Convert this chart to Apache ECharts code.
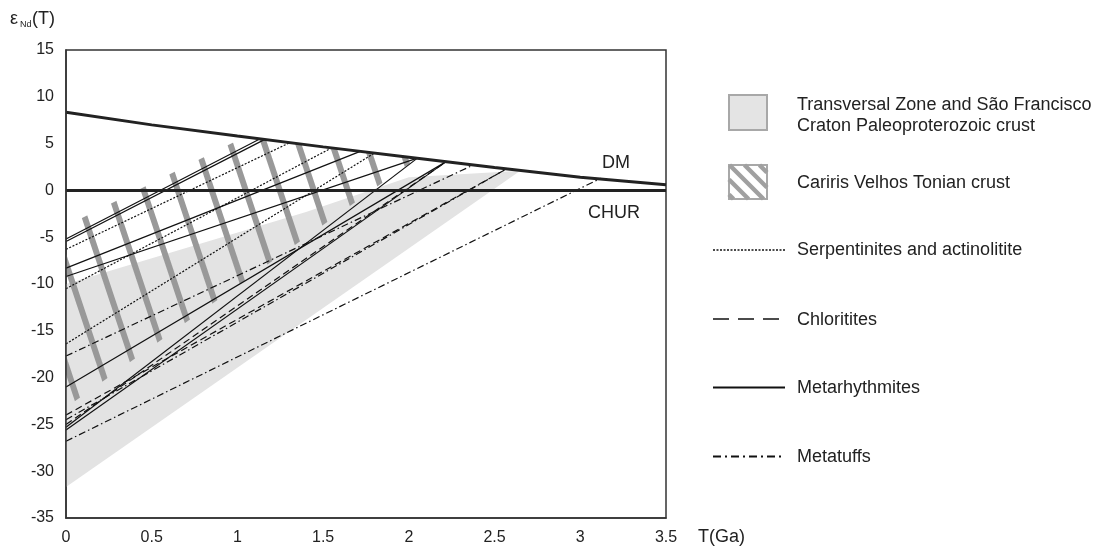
<!DOCTYPE html>
<html><head><meta charset="utf-8">
<script src="https://cdn.jsdelivr.net/npm/echarts@6/dist/echarts.min.js"></script>
<style>html,body{margin:0;padding:0;background:#fff}#c{width:1105px;height:551px}</style>
</head><body><div id="c"></div>
<script>
// ---------- data ----------
const xTickLabels = ['0','0.5','1','1.5','2','2.5','3','3.5'];
const yTickLabels = ['-35','-30','-25','-20','-15','-10','-5','0','5','10','15'];
// Depleted mantle curve
const dmT = [0, 0.5, 1, 1.5, 2, 2.5, 3, 3.5];
const dmE = [8.35, 7.0, 5.8, 4.65, 3.55, 2.45, 1.4, 0.6];
// CHUR
const churT = [0, 3.5];
const churE = [0, 0];
// Transversal Zone and São Francisco Craton Paleoproterozoic crust field
const fieldT = [0, 1.4, 2.0, 2.65, 0];
const fieldE = [-10.0, -2.3, 1.4, 2.1, -31.7];
// Cariris Velhos Tonian crust field
const hatchT = [0, 1.04, 1.5, 2.0, 2.05, 0];
const hatchE = [-3.8, 5.7, 4.65, 3.55, 3.45, -23.2];
// Sample evolution lines: start eps at T=0, end (T, eps) on DM
const serpE0 = [-6.3, -10.5, -16.4];
const serpT1 = [1.30, 1.55, 1.80];
const serpE1 = [5.05, 4.55, 4.0];
const chloE0 = [-24.0, -25.0];
const chloT1 = [2.57, 2.22];
const chloE1 = [2.3, 3.1];
const metaE0 = [-5.2, -5.45, -8.3, -9.2, -21.0, -25.3, -25.6];
const metaT1 = [1.13, 1.16, 1.72, 2.05, 2.22, 2.05, 2.22];
const metaE1 = [5.5, 5.45, 4.2, 3.45, 3.1, 3.45, 3.1];
const tuffE0 = [-17.7, -24.5, -26.8];
const tuffT1 = [2.38, 2.57, 3.12];
const tuffE1 = [2.75, 2.3, 1.3];

// ---------- styles ----------
const FONT = '"Liberation Sans", Arial, Helvetica, sans-serif';
const INK = '#222';
const STRIPE = '#999999';
const FIELD = '#e3e3e3';
const DASH = {
  serp: [2, 1.6],
  chlo: [7, 4],
  meta: 'solid',
  tuff: [7, 3, 1.5, 3]
};

function makeHatchPattern() {
  const W = 34, H = 102;
  const c = document.createElement('canvas');
  c.width = W; c.height = H;
  const g = c.getContext('2d');
  g.strokeStyle = STRIPE;
  g.lineWidth = 6;
  for (let k = -3; k <= 3; k++) {
    const x0 = 12.3 + W * k;
    g.beginPath();
    g.moveTo(x0 - W, -H);
    g.lineTo(x0 + 2 * W, 2 * H);
    g.stroke();
  }
  return c;
}
const hatchCanvas = makeHatchPattern();

function polySeries(name, T, E, fill, z) {
  return {
    type: 'custom', name: name, z: z, silent: true,
    encode: { x: 0, y: 1 },
    data: T.map((t, i) => [t, E[i]]),
    renderItem: function (params, api) {
      if (params.dataIndex !== 0) return null;
      const pts = T.map((t, i) => api.coord([t, E[i]]));
      return { type: 'polygon', shape: { points: pts }, style: { fill: fill } };
    }
  };
}

function lineFamily(name, E0, T1, E1, dash) {
  return E0.map((e0, i) => ({
    type: 'line', name: name, z: 3, silent: true,
    showSymbol: false, symbol: 'none',
    data: [[0, e0], [T1[i], E1[i]]],
    lineStyle: { color: '#111', width: 1.2, type: dash }
  }));
}

const series = [
  polySeries('field', fieldT, fieldE, FIELD, 1),
  polySeries('hatch', hatchT, hatchE, { image: hatchCanvas, repeat: 'repeat' }, 2),
  ...lineFamily('Serpentinites and actinolitite', serpE0, serpT1, serpE1, DASH.serp),
  ...lineFamily('Chloritites', chloE0, chloT1, chloE1, DASH.chlo),
  ...lineFamily('Metarhythmites', metaE0, metaT1, metaE1, DASH.meta),
  ...lineFamily('Metatuffs', tuffE0, tuffT1, tuffE1, DASH.tuff),
  {
    type: 'line', name: 'DM', z: 4, silent: true, showSymbol: false, symbol: 'none',
    data: dmT.map((t, i) => [t, dmE[i]]),
    lineStyle: { color: INK, width: 3 }
  },
  {
    type: 'line', name: 'CHUR', z: 4, silent: true, showSymbol: false, symbol: 'none',
    data: churT.map((t, i) => [t, churE[i]]),
    lineStyle: { color: INK, width: 3 }
  }
];

// ---------- legend graphics ----------
const LX0 = 713, LX1 = 785, TX = 797;
function txt(x, y, s, size) {
  return { type: 'text', silent: true, z: 100,
    style: { x: x, y: y, text: s, font: (size || 18) + 'px ' + FONT, fill: INK, verticalAlign: 'middle', align: 'left' } };
}
function seg(x1, y1, x2, y2, dash, w, color) {
  return { type: 'line', silent: true, z: 100,
    shape: { x1: x1, y1: y1, x2: x2, y2: y2 },
    style: { stroke: color || '#111', lineWidth: w || 1.6, lineDash: dash || null } };
}
function hatchBox(x, y, w, h) {
  const els = [{ type: 'rect', silent: true, z: 100, shape: { x: x, y: y, width: w, height: h },
    style: { fill: '#fff', stroke: '#a8a8a8', lineWidth: 2 } }];
  const sp = 15;
  for (let x0 = x - 2 * sp + 0.5; x0 < x + w; x0 += sp) {
    // 45 degree line starting at (x0, y) going down-right, clipped to box
    let ax = x0, ay = y, bx = x0 + h, by = y + h;
    if (ax < x) { ay += (x - ax); ax = x; }
    if (bx > x + w) { by -= (bx - (x + w)); bx = x + w; }
    if (ay < by) els.push(seg(ax, ay, bx, by, null, 4.5, '#a0a0a0'));
  }
  return els;
}
const graphics = [
  // y axis title
  txt(10, 19, 'ε', 18),
  txt(20, 25, 'Nd', 9),
  txt(32, 19, '(T)', 18),
  // x axis title
  txt(698, 537.5, 'T(Ga)', 18),
  // curve labels
  txt(602, 163, 'DM', 18),
  txt(588, 213, 'CHUR', 18),
  // legend
  { type: 'rect', silent: true, z: 100, shape: { x: 729, y: 95, width: 38, height: 35 },
    style: { fill: '#e4e4e4', stroke: '#a8a8a8', lineWidth: 2 } },
  txt(TX, 105, 'Transversal Zone and São Francisco'),
  txt(TX, 126, 'Craton Paleoproterozoic crust'),
  ...hatchBox(729, 165, 38, 34),
  txt(TX, 183, 'Cariris Velhos Tonian crust'),
  seg(LX0, 250, LX1, 250, [2, 1.5], 1.5),
  txt(TX, 250, 'Serpentinites and actinolitite'),
  seg(LX0, 319, LX1, 319, [16, 9], 1.6),
  txt(TX, 320, 'Chloritites'),
  seg(LX0, 387.5, LX1, 387.5, null, 2),
  txt(TX, 388, 'Metarhythmites'),
  seg(LX0, 456.5, LX1, 456.5, [8, 4, 2, 4], 2),
  txt(TX, 457, 'Metatuffs')
];

const chart = echarts.init(document.getElementById('c'), null, { renderer: 'canvas' });
chart.setOption({
  animation: false,
  backgroundColor: '#fff',
  grid: { left: 66, right: 439, top: 50, bottom: 33, show: true, borderColor: '#333', borderWidth: 1.5, backgroundColor: 'transparent' },
  xAxis: {
    type: 'value', min: 0, max: 3.5, interval: 0.5, z: 10,
    axisLine: { show: true, onZero: false, lineStyle: { color: '#333', width: 1.5 } },
    axisTick: { show: false }, splitLine: { show: false },
    axisLabel: { margin: 12, color: INK, fontSize: 16, fontFamily: FONT,
      formatter: function (v) { return xTickLabels[Math.round(v / 0.5)]; } }
  },
  yAxis: {
    type: 'value', min: -35, max: 15, interval: 5, z: 10,
    axisLine: { show: true, onZero: false, lineStyle: { color: '#333', width: 1.5 } },
    axisTick: { show: false }, splitLine: { show: false },
    axisLabel: { margin: 12, color: INK, fontSize: 16, fontFamily: FONT,
      formatter: function (v) { return yTickLabels[Math.round((v + 35) / 5)]; } }
  },
  series: series,
  graphic: graphics
});
</script>
</body></html>
